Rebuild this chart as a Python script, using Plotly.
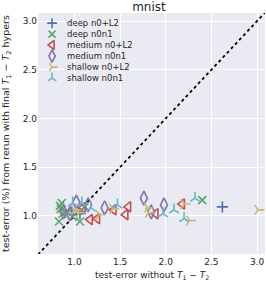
import plotly.graph_objects as go

# ---- data ----
series_names = ["deep n0+L2", "deep n0n1", "medium n0+L2", "medium n0n1", "shallow n0+L2", "shallow n0n1"]
deep_l2_x = [2.62, 0.97, 1.06]
deep_l2_y = [1.09, 1.05, 1.02]
deep_n0n1_x = [0.83, 0.86, 0.85, 0.87, 0.84, 0.91, 1.06, 1.11, 0.98, 2.40]
deep_n0n1_y = [0.94, 1.13, 1.07, 1.02, 1.10, 1.04, 0.94, 1.09, 0.99, 1.16]
medium_l2_x = [1.09, 1.17, 1.25, 1.43, 1.56, 1.59, 1.89, 2.18]
medium_l2_y = [1.08, 0.96, 0.97, 1.06, 1.01, 1.09, 1.02, 1.12]
medium_n0n1_x = [0.88, 1.02, 1.15, 1.33, 1.76, 1.84, 1.98, 0.95]
medium_n0n1_y = [1.04, 1.14, 1.11, 1.08, 1.18, 1.04, 1.11, 1.02]
shallow_l2_x = [1.00, 1.05, 1.27, 1.80, 1.81, 2.20, 2.26, 3.01, 1.42]
shallow_l2_y = [1.06, 1.03, 1.01, 1.08, 1.03, 1.12, 0.95, 1.06, 1.07]
shallow_n0n1_x = [0.98, 1.08, 1.18, 1.47, 1.97, 2.09, 2.20, 2.32]
shallow_n0n1_y = [1.13, 1.13, 1.08, 1.11, 1.02, 1.06, 0.97, 1.18]
tick_vals = [1.0, 1.5, 2.0, 2.5, 3.0]
tick_text = ["1.0", "1.5", "2.0", "2.5", "3.0"]
diag = [0.6, 3.1]

xs = [deep_l2_x, deep_n0n1_x, medium_l2_x, medium_n0n1_x, shallow_l2_x, shallow_n0n1_x]
ys = [deep_l2_y, deep_n0n1_y, medium_l2_y, medium_n0n1_y, shallow_l2_y, shallow_n0n1_y]
colors = ["#4C72B0", "#55A868", "#C44E52", "#8172B2", "#CCB974", "#64B5CD"]
symbols = ["cross-thin-open", "x-thin-open", "triangle-left-open", "diamond-tall-open", "y-right-open", "y-up-open"]
sizes = [8, 8, 9, 10, 8, 8]

FONT = "DejaVu Sans"
TXT = "#262626"
fig = go.Figure()
fig.add_trace(go.Scatter(x=diag, y=diag, mode="lines", showlegend=False,
                         line=dict(color="black", width=1.8, dash="dot"), hoverinfo="skip"))
for name, x, y, c, s, sz in zip(series_names, xs, ys, colors, symbols, sizes):
    fig.add_trace(go.Scatter(x=x, y=y, mode="markers", name=name, showlegend=False,
                             marker=dict(symbol=s, size=sz, color=c, line=dict(color=c, width=1.6))))

# manual compact legend on an overlay axis
top, step = 0.958, 0.0456
for k, (name, c, s, sz) in enumerate(zip(series_names, colors, symbols, sizes)):
    yy = top - k * step
    fig.add_trace(go.Scatter(x=[0.062], y=[yy], xaxis="x2", yaxis="y2", mode="markers", showlegend=False,
                             marker=dict(symbol=s, size=sz - 1, color=c, line=dict(color=c, width=1.6)),
                             hoverinfo="skip"))
    fig.add_annotation(x=0.12, y=yy, xref="x2", yref="y2", text=name, showarrow=False,
                       xanchor="left", yanchor="middle", font=dict(family=FONT, size=8.5, color=TXT))

# x-axis title placed as annotation below the tick labels
fig.add_annotation(x=0.5, y=-0.088, xref="paper", yref="paper", showarrow=False,
                   text="test-error without <i>T</i><sub>1</sub> − <i>T</i><sub>2</sub>",
                   xanchor="center", yanchor="middle", font=dict(family=FONT, size=9, color=TXT))

axis_common = dict(showgrid=True, gridcolor="white", gridwidth=1, zeroline=False, showline=False,
                   ticks="", tickvals=tick_vals, ticktext=tick_text,
                   tickfont=dict(family=FONT, size=9, color=TXT))
fig.update_layout(
    width=266, height=281,
    margin=dict(l=32, r=1, t=13, b=27),
    paper_bgcolor="white", plot_bgcolor="#EAEAF2",
    showlegend=False,
    title=dict(text="mnist", x=0.56, xanchor="center", y=0.975, yanchor="middle", yref="container",
               font=dict(family=FONT, size=12, color=TXT)),
    xaxis=dict(range=[0.6, 3.087], ticklabelstandoff=1, **axis_common),
    yaxis=dict(range=[0.606, 3.083], **axis_common,
               title=dict(text="test-error (%) from rerun with final <i>T</i><sub>1</sub> − <i>T</i><sub>2</sub> hypers",
                          font=dict(family=FONT, size=9.5, color=TXT))),
    xaxis2=dict(range=[0, 1], overlaying="x", visible=False, fixedrange=True),
    yaxis2=dict(range=[0, 1], overlaying="y", visible=False, fixedrange=True),
)
fig.write_html("out.html", config={"displayModeBar": False},
               post_script="document.body.style.margin='0';document.body.style.overflow='hidden';")
